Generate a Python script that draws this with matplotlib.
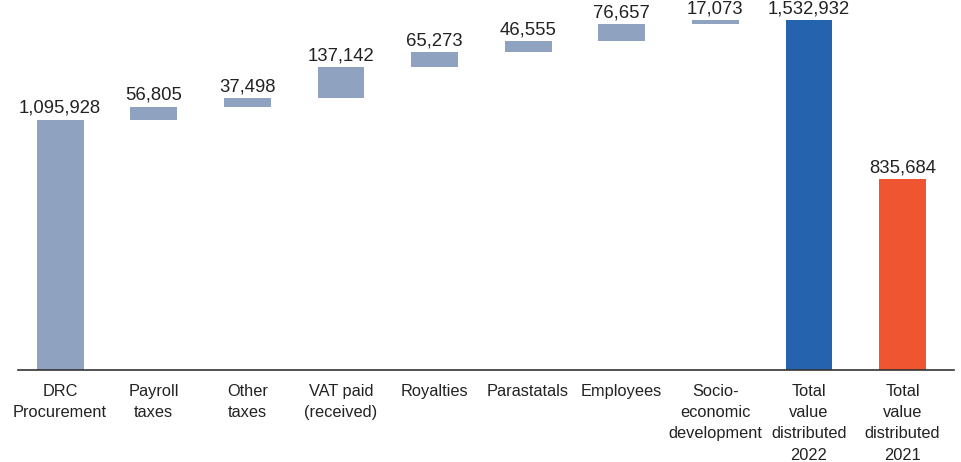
import matplotlib
matplotlib.use("Agg")
import matplotlib.pyplot as plt
import numpy as np

categories = ["DRC\nProcurement", "Payroll\ntaxes", "Other\ntaxes", "VAT paid\n(received)",
              "Royalties", "Parastatals", "Employees", "Socio-\neconomic\ndevelopment",
              "Total\nvalue\ndistributed\n2022", "Total\nvalue\ndistributed\n2021"]
increments = [1095928, 56805, 37498, 137142, 65273, 46555, 76657, 17073]
total_2022 = 1532932
total_2021 = 835684

grey = "#8FA3C1"
blue = "#2563AE"
orange = "#F05532"

fig = plt.figure(figsize=(9.62, 4.62), dpi=100)
ax = fig.add_axes([18/962, 92/462, (954-18)/962, 370/462])

x = np.arange(len(categories))
bottoms = [0] + list(np.cumsum(increments)[:-1])
heights = increments + [total_2022, total_2021]
bottoms = bottoms + [0, 0]
colors = [grey]*len(increments) + [blue, orange]

ax.bar(x, heights, bottom=bottoms, width=0.5, color=colors)
for xi, b, h in zip(x, bottoms, heights):
    ax.text(xi, b + h + 12000, f"{h:,}", ha="center", va="bottom",
            fontsize=13.3, color="#222222", family=["Liberation Sans", "DejaVu Sans"])

ax.set_xlim(-0.45, 9.55)
ax.set_ylim(0, 1620000)
for s in ["top", "right", "left"]:
    ax.spines[s].set_visible(False)
ax.spines["bottom"].set_color("#333333")
ax.spines["bottom"].set_linewidth(1.2)
ax.set_yticks([])
ax.set_xticks(x)
ax.set_xticklabels(categories, fontsize=11.8, color="#222222", linespacing=1.52,
                   family=["Liberation Sans", "DejaVu Sans"])
ax.tick_params(axis="x", length=0, pad=10)

fig.savefig("out.png", dpi=100)
